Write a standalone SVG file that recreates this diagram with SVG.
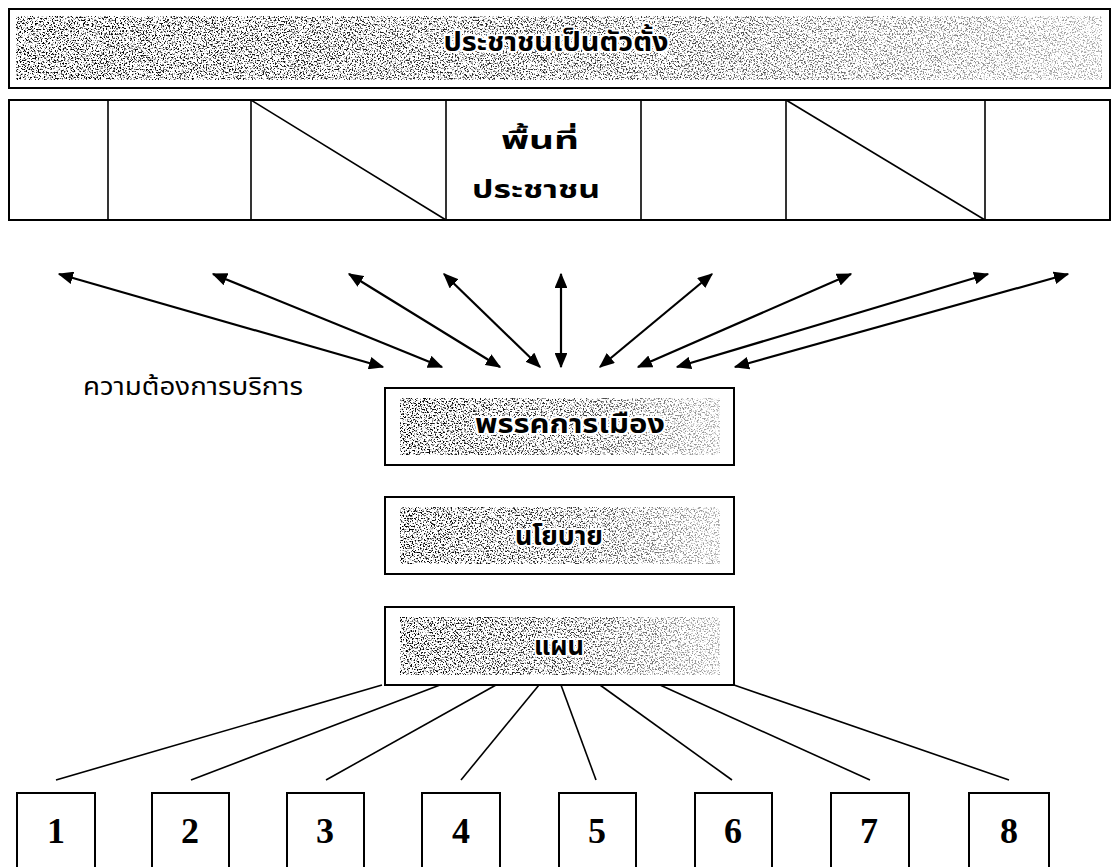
<svg xmlns="http://www.w3.org/2000/svg" width="1120" height="867" viewBox="0 0 1120 867">
<style>
.box{fill:#fff;stroke:#000;stroke-width:2}
.ln{stroke:#000;stroke-width:1.6;fill:none}
.arr{stroke:#000;stroke-width:2.2;fill:none;marker-start:url(#ah);marker-end:url(#ah)}
.th{font-family:"Noto Sans Thai","Noto Sans","DejaVu Sans",sans-serif;font-weight:bold;fill:#000;text-anchor:middle}
.halo{stroke:#fff;stroke-width:4;paint-order:stroke;stroke-linejoin:round}
.lab{font-family:"Noto Sans Thai","Noto Sans","DejaVu Sans",sans-serif;font-size:24px;fill:#000}
.num{font-family:"Liberation Serif","Times New Roman",serif;font-weight:bold;font-size:36px;fill:#000;text-anchor:middle}
</style>
<defs>
<marker id="ah" viewBox="0 0 12 10" refX="11" refY="5" markerWidth="7" markerHeight="5.8" orient="auto-start-reverse" markerUnits="strokeWidth">
<path d="M0,0 L12,5 L0,10 z" fill="#000"/>
</marker>
<filter id="speckle" x="0" y="0" width="1" height="1">
<feTurbulence type="fractalNoise" baseFrequency="0.65" numOctaves="3" seed="7"/>
<feColorMatrix type="matrix" values="0 0 0 0 0  0 0 0 0 0  0 0 0 0 0  -6 0 0 0 2.95"/>
</filter>
<linearGradient id="fade" x1="0" y1="0" x2="1" y2="0">
<stop offset="0" stop-color="#fff"/>
<stop offset="0.55" stop-color="#ccc"/>
<stop offset="1" stop-color="#555"/>
</linearGradient>
<mask id="fm" maskContentUnits="objectBoundingBox">
<rect x="0" y="0" width="1" height="1" fill="url(#fade)"/>
</mask>
</defs>

<g id="banner">
<rect class="box" x="9" y="9" width="1101" height="79"/>
<rect x="16" y="16" width="1086" height="64" fill="#000" filter="url(#speckle)" mask="url(#fm)"/>
<text class="th halo" x="556" y="51" font-size="27" textLength="225" lengthAdjust="spacingAndGlyphs">ประชาชนเป็นตัวตั้ง</text>
</g>

<g id="area-row">
<rect class="box" x="9" y="100" width="1101" height="120"/>
<line class="ln" x1="108" y1="100" x2="108" y2="220"/>
<line class="ln" x1="251" y1="100" x2="251" y2="220"/>
<line class="ln" x1="446" y1="100" x2="446" y2="220"/>
<line class="ln" x1="641" y1="100" x2="641" y2="220"/>
<line class="ln" x1="786" y1="100" x2="786" y2="220"/>
<line class="ln" x1="985" y1="100" x2="985" y2="220"/>
<line class="ln" x1="251" y1="100" x2="446" y2="220"/>
<line class="ln" x1="786" y1="100" x2="985" y2="220"/>
<text class="th" x="540" y="149" font-size="25" textLength="78" lengthAdjust="spacingAndGlyphs">พื้นที่</text>
<text class="th" x="536" y="198" font-size="25" textLength="128" lengthAdjust="spacingAndGlyphs">ประชาชน</text>
</g>

<g id="connectors">
<line class="arr" x1="383" y1="367" x2="59" y2="274"/>
<line class="arr" x1="442" y1="367" x2="213" y2="274"/>
<line class="arr" x1="500" y1="367" x2="349" y2="274"/>
<line class="arr" x1="540" y1="367" x2="444" y2="274"/>
<line class="arr" x1="561" y1="367" x2="561" y2="274"/>
<line class="arr" x1="600" y1="367" x2="712" y2="274"/>
<line class="arr" x1="638" y1="367" x2="851" y2="274"/>
<line class="arr" x1="677" y1="367" x2="988" y2="274"/>
<line class="arr" x1="735" y1="367" x2="1068" y2="274"/>
<line class="ln" x1="382" y1="685" x2="56" y2="780"/>
<line class="ln" x1="440" y1="685" x2="191" y2="780"/>
<line class="ln" x1="496" y1="685" x2="326" y2="780"/>
<line class="ln" x1="539" y1="685" x2="461" y2="780"/>
<line class="ln" x1="561" y1="685" x2="596" y2="780"/>
<line class="ln" x1="600" y1="685" x2="732" y2="780"/>
<line class="ln" x1="660" y1="685" x2="870" y2="780"/>
<line class="ln" x1="734" y1="685" x2="1009" y2="780"/>
</g>

<g id="label-service">
<text class="lab" x="83" y="395" textLength="220" lengthAdjust="spacingAndGlyphs">ความต้องการบริการ</text>
</g>

<g id="party">
<rect class="box" x="385" y="388" width="349" height="77"/>
<rect x="400" y="398" width="320" height="57" fill="#000" filter="url(#speckle)" mask="url(#fm)"/>
<text class="th halo" x="570" y="433" font-size="27" textLength="190" lengthAdjust="spacingAndGlyphs">พรรคการเมือง</text>
</g>

<g id="policy">
<rect class="box" x="385" y="497" width="349" height="77"/>
<rect x="400" y="507" width="320" height="57" fill="#000" filter="url(#speckle)" mask="url(#fm)"/>
<text class="th halo" x="559" y="545" font-size="27" textLength="88" lengthAdjust="spacingAndGlyphs">นโยบาย</text>
</g>

<g id="plan">
<rect class="box" x="385" y="607" width="349" height="78"/>
<rect x="400" y="617" width="320" height="58" fill="#000" filter="url(#speckle)" mask="url(#fm)"/>
<text class="th halo" x="559" y="655" font-size="27" textLength="50" lengthAdjust="spacingAndGlyphs">แผน</text>
</g>

<g id="n1"><rect class="box" x="17" y="793" width="78" height="80"/><text class="num" x="56" y="843">1</text></g>
<g id="n2"><rect class="box" x="152" y="793" width="77" height="80"/><text class="num" x="190" y="843">2</text></g>
<g id="n3"><rect class="box" x="287" y="793" width="77" height="80"/><text class="num" x="325" y="843">3</text></g>
<g id="n4"><rect class="box" x="422" y="793" width="78" height="80"/><text class="num" x="461" y="843">4</text></g>
<g id="n5"><rect class="box" x="559" y="793" width="77" height="80"/><text class="num" x="597" y="843">5</text></g>
<g id="n6"><rect class="box" x="695" y="793" width="77" height="80"/><text class="num" x="733" y="843">6</text></g>
<g id="n7"><rect class="box" x="831" y="793" width="78" height="80"/><text class="num" x="869" y="843">7</text></g>
<g id="n8"><rect class="box" x="969" y="793" width="80" height="80"/><text class="num" x="1009" y="843">8</text></g>
</svg>
